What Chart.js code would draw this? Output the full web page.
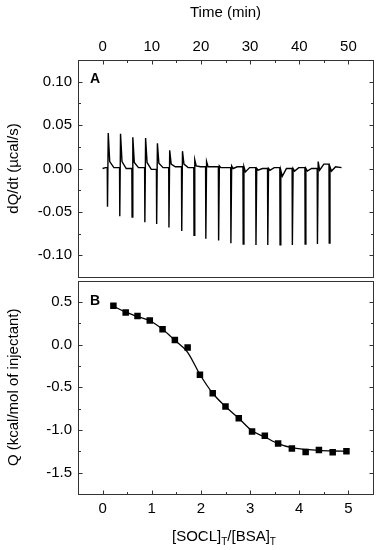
<!DOCTYPE html>
<html>
<head>
<meta charset="utf-8">
<script src="https://cdn.jsdelivr.net/npm/chart.js@4.4.1/dist/chart.umd.min.js"></script>
<style>
  html, body { margin: 0; padding: 0; background: #fff; }
  #wrap { position: relative; width: 378px; height: 550px; }
  #chartA { position: absolute; left: 0; top: 0; }
  #chartB { position: absolute; left: 0; top: 276px; }
  #xTitle { position: absolute; left: 172px; top: 527px; font: 15px Arial, "Liberation Sans", sans-serif; color: #000; white-space: nowrap; line-height: 18px; }
  #xTitle sub { font-size: 10px; vertical-align: -4px; line-height: 0; }
</style>
</head>
<body>
<div id="wrap">
  <canvas id="chartA" width="378" height="278"></canvas>
  <canvas id="chartB" width="378" height="274"></canvas>
  <div id="xTitle">[SOCL]<sub>T</sub>/[BSA]<sub>T</sub></div>
</div>
<script>
const FONT = 'Arial, "Liberation Sans", sans-serif';

// Panel A: raw thermogram, one entry per injection (min, µcal/s)
const injTime  = [1.0, 3.5, 6.0, 8.6, 11.0, 13.5, 16.1, 18.6, 21.0, 23.6, 26.1, 28.6, 31.2, 33.6, 36.1, 38.6, 41.2, 43.7, 46.1];
const downPeak = [-0.044, -0.055, -0.056, -0.062, -0.064, -0.068, -0.072, -0.077, -0.081, -0.083, -0.086, -0.087, -0.088, -0.088, -0.088, -0.088, -0.087, -0.087, -0.086];
const upPeak   = [0.041, 0.040, 0.036, 0.035, 0.029, 0.021, 0.020, 0.010, 0.008, 0.003, 0.003, 0.002, 0.000, 0.000, -0.002, 0.000, 0.000, 0.008, 0.002];
const tailVal  = [0.008, 0.008, 0.007, 0.007, 0.006, 0.005, 0.005, 0.003, 0.002, 0.001, 0.000, -0.004, -0.002, -0.002, -0.009, -0.003, -0.003, -0.002, -0.003];
const midVal   = [0.001, 0.000, 0.001, -0.001, 0.001, 0.002, 0.001, 0.002, 0.002, 0.001, 0.002, 0.001, 0.000, 0.001, 0.000, 0.001, 0.000, 0.005, 0.002];
const timeTicks  = [0, 10, 20, 30, 40, 50];
const timeMinor  = [5, 15, 25, 35, 45];
const dqTicks    = [-0.10, -0.05, 0, 0.05, 0.10];
const dqMinor    = [-0.075, -0.025, 0.025, 0.075];

// Panel B: integrated heats and fitted curve
const ratio = [0.22, 0.47, 0.71, 0.96, 1.22, 1.47, 1.73, 1.98, 2.24, 2.50, 2.77, 3.04, 3.30, 3.57, 3.85, 4.13, 4.40, 4.68, 4.96];
const qVals = [0.455, 0.375, 0.336, 0.284, 0.180, 0.054, -0.034, -0.352, -0.570, -0.726, -0.864, -1.017, -1.067, -1.158, -1.216, -1.258, -1.235, -1.261, -1.250];
const fitQ  = [0.450, 0.380, 0.330, 0.280, 0.180, 0.050, -0.090, -0.350, -0.570, -0.726, -0.862, -1.010, -1.082, -1.160, -1.208, -1.227, -1.239, -1.246, -1.250];
const ratioTicks = [0, 1, 2, 3, 4, 5];
const ratioMinor = [0.5, 1.5, 2.5, 3.5, 4.5];
const qTicks     = [-1.5, -1.0, -0.5, 0, 0.5];
const qMinor     = [-1.25, -0.75, -0.25, 0.25];

// build the trace from the per-injection readings
const trace = [{x: 0, y: 0}, {x: 0.6, y: 0.001}];
injTime.forEach((t, i) => {
    trace.push({x: t - 0.05, y: i ? midVal[i - 1] : 0.001});
    trace.push({x: t, y: downPeak[i]});
    trace.push({x: t + 0.15, y: upPeak[i]});
    trace.push({x: t + 0.45, y: tailVal[i]});
    trace.push({x: t + 1.3, y: midVal[i]});
});
trace.push({x: 48.6, y: 0.001});

// frame box with inward ticks, plus the panel letter
const frameTicks = {
    id: 'frameTicks',
    afterDraw(chart, args, o) {
        const {ctx, chartArea: a} = chart;
        const xs = chart.scales.x, ys = chart.scales.y;
        const L = Math.round(a.left) + 0.5, R = Math.round(a.right) + 0.5;
        const T = Math.round(a.top) + 0.5, B = Math.round(a.bottom) + 0.5;
        ctx.save();
        ctx.strokeStyle = '#333';
        ctx.lineWidth = 1;
        ctx.strokeRect(L, T, R - L, B - T);
        const line = (x1, y1, x2, y2) => { ctx.beginPath(); ctx.moveTo(x1, y1); ctx.lineTo(x2, y2); ctx.stroke(); };
        const edge = o.xSide === 'top' ? T : B;
        const dir = o.xSide === 'top' ? 1 : -1;
        const xTick = (v, len) => { const p = Math.round(xs.getPixelForValue(v)) + 0.5; line(p, edge, p, edge + dir * len); };
        const yTick = (v, len) => { const p = Math.round(ys.getPixelForValue(v)) + 0.5; line(L, p, L + len, p); line(R, p, R - len, p); };
        o.xMajor.forEach(v => xTick(v, 4));
        o.xMinor.forEach(v => xTick(v, 2.5));
        o.yMajor.forEach(v => yTick(v, 4));
        o.yMinor.forEach(v => yTick(v, 2.5));
        ctx.fillStyle = '#000';
        ctx.font = 'bold 14px ' + FONT;
        ctx.fillText(o.letter, a.left + 12, a.top + o.letterDy);
        ctx.restore();
    }
};

const tickFont = {family: FONT, size: 15};
// stop Chart.js reserving room for tick labels at the axis ends
const noPad = s => { s.paddingTop = 0; s.paddingBottom = 0; s.paddingLeft = 0; s.paddingRight = 0; };

new Chart(document.getElementById('chartA'), {
    type: 'line',
    data: {datasets: [{data: trace, borderColor: '#000', borderWidth: 1.4, pointRadius: 0, tension: 0}]},
    options: {
        responsive: false, animation: false,
        layout: {padding: {left: 0, right: 5, top: 0, bottom: 1}},
        plugins: {
            legend: {display: false}, tooltip: {enabled: false},
            frameTicks: {xSide: 'top', xMajor: timeTicks, xMinor: timeMinor, yMajor: dqTicks, yMinor: dqMinor, letter: 'A', letterDy: 23}
        },
        scales: {
            x: {
                type: 'linear', position: 'top', min: -5, max: 55,
                afterBuildTicks: s => { s.ticks = timeTicks.map(v => ({value: v})); },
                afterFit: s => { s.height = 60; noPad(s); },
                grid: {display: false, drawTicks: false}, border: {display: false},
                ticks: {font: tickFont, color: '#000', padding: 4, autoSkip: false, maxRotation: 0},
                title: {display: true, text: 'Time (min)', font: tickFont, color: '#000', padding: {top: 4}}
            },
            y: {
                min: -0.125, max: 0.125,
                afterBuildTicks: s => { s.ticks = dqTicks.map(v => ({value: v})); },
                afterFit: s => { s.width = 78; noPad(s); },
                grid: {display: false, drawTicks: false}, border: {display: false},
                ticks: {font: tickFont, color: '#000', padding: 6, autoSkip: false, callback: v => Number(v).toFixed(2)},
                title: {display: true, text: 'dQ/dt (µcal/s)', font: tickFont, color: '#000', padding: {top: 5}}
            }
        }
    },
    plugins: [frameTicks]
});

new Chart(document.getElementById('chartB'), {
    type: 'scatter',
    data: {datasets: [
        {data: ratio.map((r, i) => ({x: r, y: fitQ[i]})), showLine: true, borderColor: '#000', borderWidth: 1.3, pointRadius: 0, cubicInterpolationMode: 'monotone'},
        {data: ratio.map((r, i) => ({x: r, y: qVals[i]})), pointStyle: 'rect', pointRadius: 4.6, backgroundColor: '#000', borderColor: '#000', borderWidth: 0}
    ]},
    options: {
        responsive: false, animation: false,
        layout: {padding: {left: 0, right: 5, top: 1, bottom: 0}},
        plugins: {
            legend: {display: false}, tooltip: {enabled: false},
            frameTicks: {xSide: 'bottom', xMajor: ratioTicks, xMinor: ratioMinor, yMajor: qTicks, yMinor: qMinor, letter: 'B', letterDy: 24}
        },
        scales: {
            x: {
                type: 'linear', position: 'bottom', min: -0.5, max: 5.5,
                afterBuildTicks: s => { s.ticks = ratioTicks.map(v => ({value: v})); },
                afterFit: s => { s.height = 56; noPad(s); },
                grid: {display: false, drawTicks: false}, border: {display: false},
                ticks: {font: tickFont, color: '#000', padding: 6, autoSkip: false, maxRotation: 0, callback: v => String(v)}
            },
            y: {
                min: -1.75, max: 0.75,
                afterBuildTicks: s => { s.ticks = qTicks.map(v => ({value: v})); },
                afterFit: s => { s.width = 78; noPad(s); },
                grid: {display: false, drawTicks: false}, border: {display: false},
                ticks: {font: tickFont, color: '#000', padding: 6, autoSkip: false, callback: v => Number(v).toFixed(1)},
                title: {display: true, text: 'Q (kcal/mol of injectant)', font: tickFont, color: '#000', padding: {top: 5}}
            }
        }
    },
    plugins: [frameTicks]
});
</script>
</body>
</html>
